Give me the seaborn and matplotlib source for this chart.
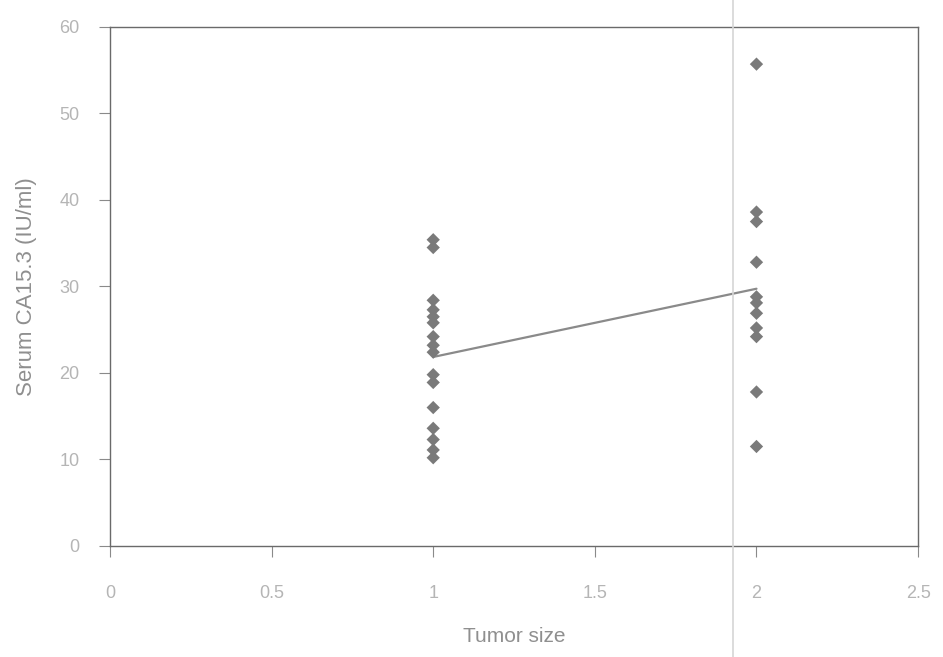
import matplotlib
matplotlib.use("Agg")
import matplotlib.pyplot as plt
from matplotlib.lines import Line2D
import seaborn as sns
import pandas as pd

# Serum CA15.3 values by tumor size group
size_1_values = [35.4, 34.5, 28.4, 27.3, 26.5, 25.8, 24.2, 23.2, 22.4,
                 19.8, 18.9, 16.0, 13.6, 12.3, 11.1, 10.2]
size_2_values = [55.7, 38.6, 37.5, 32.8, 28.8, 28.1, 26.9, 25.2, 24.2,
                 17.8, 11.5]
x_ticks = [0, 0.5, 1, 1.5, 2, 2.5]
x_tick_labels = ["0", "0.5", "1", "1.5", "2", "2.5"]
y_ticks = [0, 10, 20, 30, 40, 50, 60]

df = pd.DataFrame({
    "Tumor size": [1] * len(size_1_values) + [2] * len(size_2_values),
    "CA153": size_1_values + size_2_values,
})

sns.set_theme(style="white")
plt.rcParams["font.family"] = ["Liberation Sans", "DejaVu Sans"]

fig = plt.figure(figsize=(9.43, 6.57), dpi=100)
ax = fig.add_axes([0.1166, 0.169, 0.857, 0.790])

# group means joined by a line
sns.lineplot(data=df, x="Tumor size", y="CA153", estimator="mean",
             errorbar=None, color="#8a8a8a", linewidth=1.6, ax=ax)
sns.scatterplot(data=df, x="Tumor size", y="CA153", marker="D", s=46,
                color="#7a7a7a", edgecolor="none", ax=ax, zorder=3)

ax.set_xlim(0, 2.5)
ax.set_ylim(0, 60)
ax.set_xticks(x_ticks)
ax.set_xticklabels(x_tick_labels)
ax.set_yticks(y_ticks)

for side in ["left", "bottom", "top", "right"]:
    ax.spines[side].set_visible(True)
    ax.spines[side].set_color("#6a6a6a")
    ax.spines[side].set_linewidth(1.0)

ax.tick_params(axis="both", which="major", direction="out", length=8,
               width=0.8, color="#8a8a8a", labelcolor="#b5b5b5",
               labelsize=13, left=True, bottom=True)
ax.tick_params(axis="x", pad=20)
ax.tick_params(axis="y", pad=14)

ax.set_xlabel("Tumor size", fontsize=15, color="#8f8f8f", labelpad=18)
ax.set_ylabel("Serum CA15.3 (IU/ml)", fontsize=16, color="#8f8f8f", labelpad=16)

# faint vertical crease across the page
fig.add_artist(Line2D([0.777, 0.777], [0, 1], transform=fig.transFigure,
                      color="#d6d6d6", linewidth=1.2))

fig.savefig("out.png", dpi=100)
